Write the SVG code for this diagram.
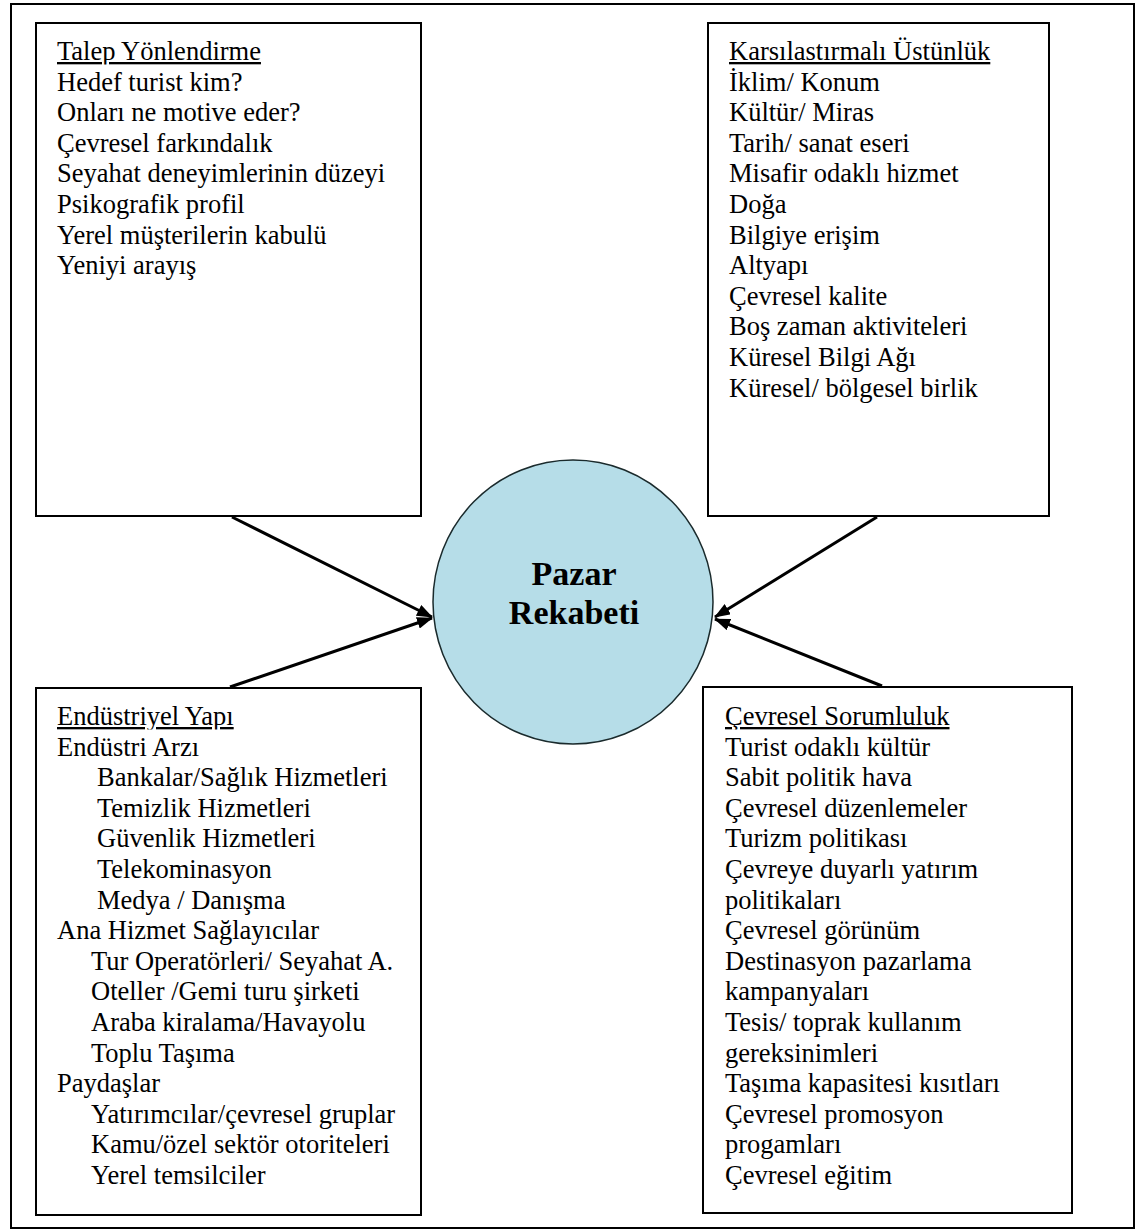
<svg xmlns="http://www.w3.org/2000/svg" width="1136" height="1230" viewBox="0 0 1136 1230">
<style>
.box{fill:#fff;stroke:#000;stroke-width:2}
.t{font-family:"Liberation Serif","Times New Roman",serif;font-size:26.5px;fill:#000}
.ttl{text-decoration:underline}
.conn{stroke:#000;stroke-width:3;fill:none;marker-end:url(#ah)}
.center{font-family:"Liberation Serif","Times New Roman",serif;font-size:34px;font-weight:bold;fill:#000;text-anchor:middle}
</style>
<defs>
<marker id="ah" viewBox="0 0 16 12" refX="15" refY="6" markerWidth="16" markerHeight="12" markerUnits="userSpaceOnUse" orient="auto">
<path d="M0,0 L16,6 L0,12 z" fill="#000"/>
</marker>
<clipPath id="clipTop" clipPathUnits="userSpaceOnUse"><rect x="0" y="0" width="1136" height="64.5"/></clipPath>
<clipPath id="clipBot" clipPathUnits="userSpaceOnUse"><rect x="0" y="650" width="1136" height="79.5"/></clipPath>
</defs>
<rect x="11" y="4" width="1123" height="1224" fill="#fff" stroke="#000" stroke-width="2"/>

<g id="connectors">
<line class="conn" x1="232" y1="517" x2="432" y2="617"/>
<line class="conn" x1="230" y1="687" x2="432" y2="618"/>
<line class="conn" x1="877" y1="517" x2="715" y2="617"/>
<line class="conn" x1="882" y1="686" x2="715" y2="619"/>
</g>

<g id="talep">
<rect class="box" x="36" y="23" width="385" height="493"/>
<text class="t ttl" x="57" y="60" clip-path="url(#clipTop)">Talep Yönlendirme</text>
<text class="t" x="57" y="90.6">Hedef turist kim?<tspan x="57" dy="30.6">Onları ne motive eder?</tspan><tspan x="57" dy="30.6">Çevresel farkındalık</tspan><tspan x="57" dy="30.6">Seyahat deneyimlerinin düzeyi</tspan><tspan x="57" dy="30.6">Psikografik profil</tspan><tspan x="57" dy="30.6">Yerel müşterilerin kabulü</tspan><tspan x="57" dy="30.6">Yeniyi arayış</tspan></text>
</g>

<g id="karsilastirmali">
<rect class="box" x="708" y="23" width="341" height="493"/>
<text class="t ttl" x="729" y="60" clip-path="url(#clipTop)">Karsılastırmalı Üstünlük</text>
<text class="t" x="729" y="90.6">İklim/ Konum<tspan x="729" dy="30.6">Kültür/ Miras</tspan><tspan x="729" dy="30.6">Tarih/ sanat eseri</tspan><tspan x="729" dy="30.6">Misafir odaklı hizmet</tspan><tspan x="729" dy="30.6">Doğa</tspan><tspan x="729" dy="30.6">Bilgiye erişim</tspan><tspan x="729" dy="30.6">Altyapı</tspan><tspan x="729" dy="30.6">Çevresel kalite</tspan><tspan x="729" dy="30.6">Boş zaman aktiviteleri</tspan><tspan x="729" dy="30.6">Küresel Bilgi Ağı</tspan><tspan x="729" dy="30.6">Küresel/ bölgesel birlik</tspan></text>
</g>

<g id="pazar">
<ellipse cx="573" cy="602" rx="140" ry="142" fill="#B6DDE8" stroke="#1a2a2c" stroke-width="1.5"/>
<text class="center" x="574" y="585">Pazar</text>
<text class="center" x="574" y="624">Rekabeti</text>
</g>

<g id="endustriyel">
<rect class="box" x="36" y="688" width="385" height="527"/>
<text class="t ttl" x="57" y="725" clip-path="url(#clipBot)">Endüstriyel Yapı</text>
<text class="t" x="57" y="755.6">Endüstri Arzı<tspan x="97" dy="30.6">Bankalar/Sağlık Hizmetleri</tspan><tspan x="97" dy="30.6">Temizlik Hizmetleri</tspan><tspan x="97" dy="30.6">Güvenlik Hizmetleri</tspan><tspan x="97" dy="30.6">Telekominasyon</tspan><tspan x="97" dy="30.6">Medya / Danışma</tspan><tspan x="57" dy="30.6">Ana Hizmet Sağlayıcılar</tspan><tspan x="91" dy="30.6">Tur Operatörleri/ Seyahat A.</tspan><tspan x="91" dy="30.6">Oteller /Gemi turu şirketi</tspan><tspan x="91" dy="30.6">Araba kiralama/Havayolu</tspan><tspan x="91" dy="30.6">Toplu Taşıma</tspan><tspan x="57" dy="30.6">Paydaşlar</tspan><tspan x="91" dy="30.6">Yatırımcılar/çevresel gruplar</tspan><tspan x="91" dy="30.6">Kamu/özel sektör otoriteleri</tspan><tspan x="91" dy="30.6">Yerel temsilciler</tspan></text>
</g>

<g id="cevresel">
<rect class="box" x="703" y="687" width="369" height="526"/>
<text class="t ttl" x="725" y="725" clip-path="url(#clipBot)">Çevresel Sorumluluk</text>
<text class="t" x="725" y="755.6">Turist odaklı kültür<tspan x="725" dy="30.6">Sabit politik hava</tspan><tspan x="725" dy="30.6">Çevresel düzenlemeler</tspan><tspan x="725" dy="30.6">Turizm politikası</tspan><tspan x="725" dy="30.6">Çevreye duyarlı yatırım</tspan><tspan x="725" dy="30.6">politikaları</tspan><tspan x="725" dy="30.6">Çevresel görünüm</tspan><tspan x="725" dy="30.6">Destinasyon pazarlama</tspan><tspan x="725" dy="30.6">kampanyaları</tspan><tspan x="725" dy="30.6">Tesis/ toprak kullanım</tspan><tspan x="725" dy="30.6">gereksinimleri</tspan><tspan x="725" dy="30.6">Taşıma kapasitesi kısıtları</tspan><tspan x="725" dy="30.6">Çevresel promosyon</tspan><tspan x="725" dy="30.6">progamları</tspan><tspan x="725" dy="30.6">Çevresel eğitim</tspan></text>
</g>
</svg>
